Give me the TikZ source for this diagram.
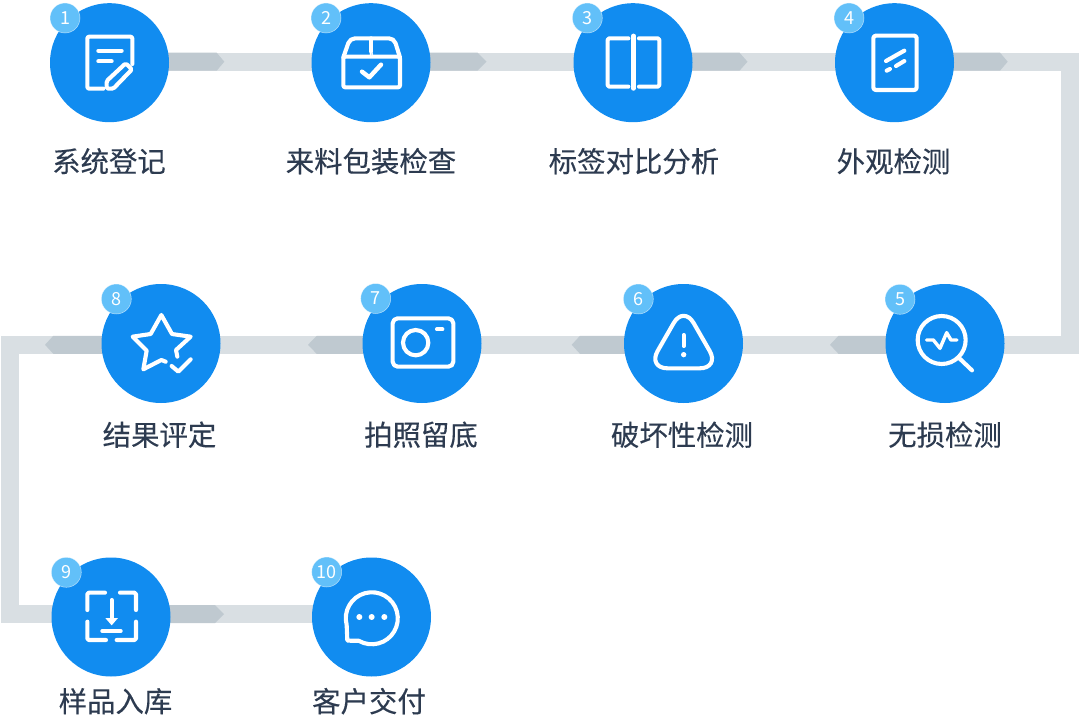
\documentclass[tikz,border=0pt]{standalone}
\usepackage{fontspec}
\setmainfont[FakeBold=0.25]{Noto Sans CJK SC}
\newfontfamily\badgefont{Noto Sans CJK SC}
\newfontfamily\labelfont[FakeBold=0.25]{Noto Sans CJK SC}
\usetikzlibrary{backgrounds,calc}
\definecolor{stepblue}{HTML}{118CF0}
\definecolor{badgeblue}{HTML}{62C0F9}
\definecolor{tracklight}{HTML}{D9DFE3}
\definecolor{trackdark}{HTML}{BFC9D0}
\definecolor{labelink}{HTML}{2D3B50}
\tikzset{
  x=1pt,y=-1pt,
  stepcircle/.style={circle,fill=stepblue,minimum size=119pt,inner sep=0pt},
  badge/.style={circle,fill=badgeblue,draw=white,draw opacity=.6,line width=.5pt,minimum size=30pt,inner sep=0pt,text=white,font=\badgefont\fontsize{18}{18}\selectfont},
  steplabel/.style={text=labelink,inner sep=0pt,font=\labelfont\fontsize{28.4}{28.4}\selectfont},
  track/.style={draw=tracklight,line width=18pt,line join=miter},
  darktip/.style={fill=trackdark},
  icon/.style={draw=white,line width=4.1pt,line cap=round,line join=round},
  zoomed/.style 2 args={shift={(#1,#2)},x=.33333pt,y=-.33333pt},
}
\newcommand{\stepitem}[8]{%
  \node[stepcircle] (n#1) at (#2,#3) {};
  \node[badge] (b#1) at (#4,#5) {#1};
  \node[steplabel] (l#1) at (#6,#7) {#8};
}
\newcommand{\darkarrow}[4]{%
  \fill[darktip] (#1 |- 0,#4) ++(0,-9) -- (#2,#4-9) -- (#3,#4) -- (#2,#4+9) -- (#1 |- 0,#4+9) -- cycle;
}
\begin{document}
\begin{tikzpicture}
\useasboundingbox (0,0) rectangle (1080,717);
\coordinate (c1) at (1070.2,61.7);
\coordinate (c2) at (1070.2,344.8);
\coordinate (c3) at (9.5,344.8);
\coordinate (c4) at (9.5,614);

\stepitem{1}{109.5}{62.7}{65}{18}{109}{161.2}{系统登记}
\stepitem{2}{371}{62.7}{326}{18}{371}{161.2}{来料包装检查}
\stepitem{3}{633}{62.7}{587.3}{18}{634}{161.2}{标签对比分析}
\stepitem{4}{894.5}{62.7}{849}{18}{893.5}{161.2}{外观检测}
\stepitem{5}{945}{343.5}{900}{299.3}{945}{434.7}{无损检测}
\stepitem{6}{683.5}{343.5}{638.3}{299}{682}{434.7}{破坏性检测}
\stepitem{7}{422}{343.5}{375.7}{298.5}{421}{434.7}{拍照留底}
\stepitem{8}{161}{343.5}{116.3}{299}{159.5}{434.7}{结果评定}
\stepitem{9}{111}{617}{66.3}{572.3}{115.5}{701.2}{样品入库}
\stepitem{10}{371.5}{617}{326.7}{572}{369}{701.2}{客户交付}

\begin{pgfonlayer}{background}
  \draw[track] (n1 |- c1) -- (n2 |- c1);
  \draw[track] (n2 |- c1) -- (n3 |- c1);
  \draw[track] (n3 |- c1) -- (n4 |- c1);
  \draw[track] (n4 |- c1) -- (c1) -- (c2) -- (n5 |- c2);
  \draw[track] (n5 |- c2) -- (n6 |- c2);
  \draw[track] (n6 |- c2) -- (n7 |- c2);
  \draw[track] (n7 |- c2) -- (n8 |- c2);
  \draw[track] (n8 |- c3) -- (c3) -- (c4) -- (n9 |- c4);
  \draw[track] (n9 |- c4) -- (n10 |- c4);
  \darkarrow{n1}{216.7}{224.3}{61.7}
  \darkarrow{n2}{477.5}{486.5}{61.7}
  \darkarrow{n3}{739.5}{747.5}{61.7}
  \darkarrow{n4}{1000}{1007.7}{61.7}
  \darkarrow{n5}{838.5}{830}{344.8}
  \darkarrow{n6}{580}{571.7}{344.8}
  \darkarrow{n7}{316.7}{308}{344.8}
  \darkarrow{n8}{53.3}{45}{344.8}
  \darkarrow{n9}{215}{224}{614}
\end{pgfonlayer}

% icon 1
\begin{scope}[zoomed={40}{0}]
  \draw[icon,rounded corners=2pt] (190,266) -- (142,266) -- (142,110) -- (277,110) -- (277,192);
  \draw[icon] (175,152) -- (245,152) (175,184) -- (215,184);
  \draw[icon,rounded corners=1.5pt] (200,266) -- (200,243) -- (257,190) -- (276,208) -- (220,266) -- cycle;
\end{scope}
% icon 2
\begin{scope}[zoomed={300}{0}]
  \draw[icon,rounded corners=2pt] (130,170) -- (130,262) -- (300,262) -- (300,170) -- cycle;
  \draw[icon,rounded corners=5pt] (130,172) -- (150,115) -- (282,115) -- (300,172);
  \draw[icon] (214,115) -- (214,155);
  \draw[icon,line width=1pt,fill=stepblue] (214,162) circle[radius=4];
  \draw[icon,line width=4.4pt] (186,215) -- (208,232) -- (243,194);
\end{scope}
% icon 3
\begin{scope}[zoomed={565}{0}]
  \draw[icon,rounded corners=1.5pt] (190,115) -- (128,115) -- (128,260) -- (190,260);
  \draw[icon,rounded corners=1.5pt] (222,115) -- (283,115) -- (283,260) -- (222,260);
  \draw[icon,line width=4.8pt] (205,108) -- (205,265);
\end{scope}
% icon 4
\begin{scope}[zoomed={825}{0}]
  \draw[icon,rounded corners=2.5pt] (145,107) rectangle (275,270);
  \draw[icon] (183,183) -- (238,152);
  \draw[icon] (185,212) -- (195,207) (213,198) -- (238,183);
\end{scope}
% icon 5
\begin{scope}[zoomed={825}{280}]
  \draw[icon] (350,180) circle[radius=72];
  \draw[icon] (400,232) -- (441,271);
  \draw[icon,line width=3.4pt] (305,180) -- (325,180) -- (345,205) -- (365,158) -- (378,180) -- (396,180);
\end{scope}
% icon 6
\begin{scope}[zoomed={565}{280}]
  \draw[icon,rounded corners=20pt] (356,77) -- (248,265) -- (464,265) -- cycle;
  \draw[icon] (356,165) -- (356,198);
  \fill[white] (356,224) circle[radius=8];
\end{scope}
% icon 7
\begin{scope}[zoomed={300}{280}]
  \draw[icon,rounded corners=5pt] (278,115) rectangle (460,260);
  \draw[icon] (347,188) circle[radius=38];
  \draw[icon] (411,148) -- (427,148);
\end{scope}
% icon 8
\begin{scope}[zoomed={0}{280}]
  \draw[icon] (497,245) -- (484,240) -- (430,268) -- (440,212) -- (398,170) -- (452,162) -- (484,105) -- (516,162) -- (572,170) -- (528,210) -- (532,230);
  \draw[icon] (515,258) -- (535,275) -- (572,238);
\end{scope}
% icon 9
\begin{scope}[zoomed={0}{550}]
  \draw[icon,rounded corners=1.5pt] (262,180) -- (262,128) -- (315,128);
  \draw[icon,rounded corners=1.5pt] (360,128) -- (408,128) -- (408,180);
  \draw[icon,rounded corners=1.5pt] (262,215) -- (262,270) -- (318,270);
  \draw[icon,rounded corners=1.5pt] (408,215) -- (408,270) -- (350,270);
  \draw[icon] (335,150) -- (335,208);
  \fill[white] (316,204) -- (354,204) -- (335,226) -- cycle;
  \draw[icon] (307,243) -- (362,243);
\end{scope}
% icon 10
\begin{scope}[zoomed={300}{550}]
  \draw[icon] (140,225) arc[start angle=165,end angle=480,radius=78] -- (142,272) -- cycle;
  \fill[white] (178,201) circle[radius=9] (215,201) circle[radius=9] (253,201) circle[radius=9];
\end{scope}
\end{tikzpicture}
\end{document}
